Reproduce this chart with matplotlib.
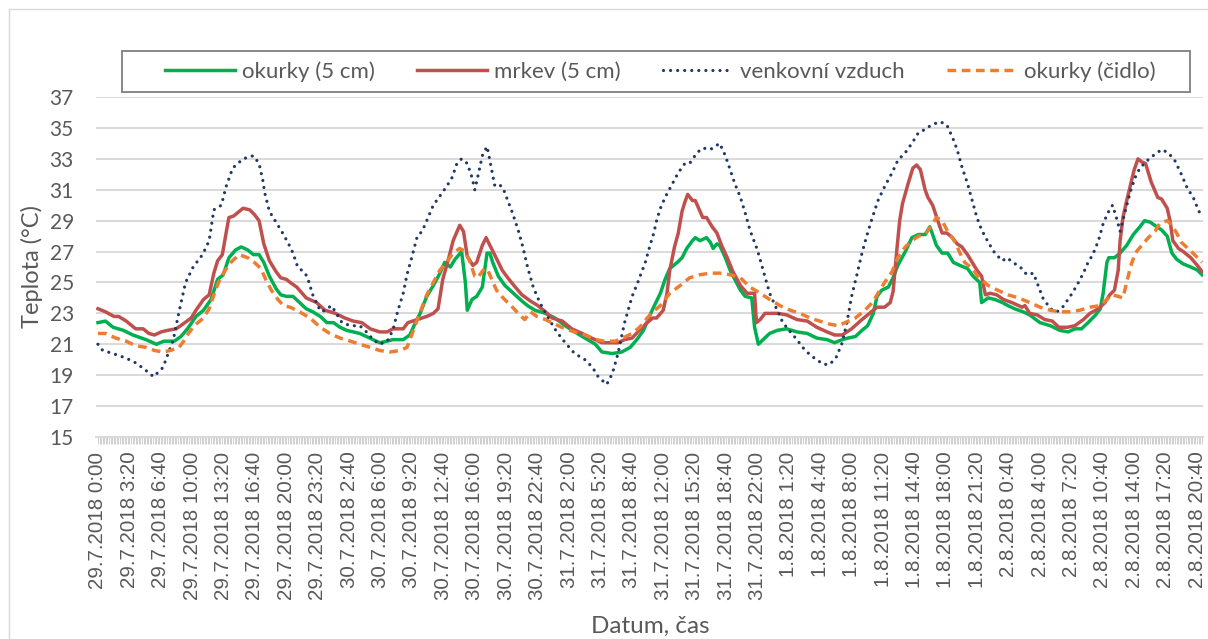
import matplotlib
matplotlib.use("Agg")
import matplotlib.pyplot as plt
import numpy as np
import pandas as pd
from matplotlib.lines import Line2D
from matplotlib.patches import Rectangle

plt.rcParams["font.family"] = ["Lato", "DejaVu Sans"]

# time in hours since 29.7.2018 0:00, temperature in degC
AIR_T = [0, 0.5, 1.6, 3.0, 4.0, 4.9, 5.9, 6.9, 8.0, 8.6, 9.3, 10.1, 11.1, 11.8,
         12.3, 13.1, 13.6, 14.3, 15.4, 16.5, 17.1, 17.5, 17.7, 18.2, 19.1, 19.7,
         20.4, 20.7, 21.2, 22.0, 22.3, 22.8, 23.4, 23.8, 24.3, 24.8, 25.2, 25.9,
         26.8, 27.8, 28.5, 29.2, 29.9, 30.7, 31.3, 31.8, 32.4, 32.8, 33.3, 33.9,
         34.4, 34.9, 35.6, 36.3, 37.0, 37.6, 38.1, 38.6, 39.2, 39.7, 40.0, 40.3,
         40.8, 41.3, 41.6, 42.1, 42.5, 43.0, 43.5, 44.0, 44.6, 45.1, 45.6, 46.2,
         46.9, 47.8, 48.7, 49.6, 50.6, 51.7, 52.5, 53.1, 54.0, 54.6, 55.2, 55.9,
         56.7, 57.3, 58.1, 58.6, 59.0, 59.3, 59.7, 60.2, 60.9, 61.6, 62.3, 62.8,
         63.6, 64.2, 65.0, 65.5, 66.0, 66.6, 67.1, 67.6, 68.2, 68.7, 69.2, 70.0,
         70.6, 71.3, 72.1, 72.7, 73.5, 74.2, 74.8, 75.6, 76.3, 77.0, 77.7, 78.4,
         79.0, 79.5, 80.0, 80.6, 81.1, 81.6, 82.2, 82.8, 83.5, 84.3, 84.9, 85.7,
         86.4, 87.1, 87.8, 88.5, 89.4, 90.1, 90.7, 91.2, 91.7, 92.3, 92.8, 93.3,
         93.8, 94.5, 95.2, 96.0, 96.5, 97.1, 97.9, 98.6, 99.3, 99.8, 100.3, 101.1,
         101.8, 102.4, 103.2, 103.9, 104.6, 105.1, 105.6, 106.2, 106.7, 107.2,
         107.7, 108.2, 108.5, 109.0, 109.6, 110.1, 110.6, 111.4, 112.0, 112.9,
         113.6, 114.3, 115.0, 115.7, 116.2, 116.8, 117.2]
AIR_V = [21.0, 20.6, 20.4, 20.1, 19.8, 19.4, 18.9, 19.5, 21.3, 23.1, 25.0, 26.0,
         26.8, 27.7, 29.7, 30.0, 31.2, 32.4, 33.0, 33.2, 32.7, 31.6, 30.8, 29.6,
         28.7, 28.1, 27.3, 26.9, 26.0, 25.6, 25.2, 24.2, 23.4, 23.1, 23.3, 23.5,
         23.1, 22.4, 22.2, 22.2, 21.8, 21.3, 21.0, 21.2, 21.9, 23.1, 24.3, 25.5,
         26.6, 28.0, 28.3, 29.0, 30.0, 30.6, 31.2, 31.8, 32.7, 33.0, 32.7, 31.8,
         31.0, 31.8, 33.2, 33.8, 32.9, 31.3, 31.4, 31.1, 30.3, 29.5, 28.4, 27.3,
         26.0, 24.7, 23.7, 22.7, 21.8, 21.1, 20.4, 20.0, 19.5, 18.9, 18.4, 19.1,
         20.4, 22.4, 24.1, 25.0, 26.3, 27.4, 28.2, 29.0, 29.8, 30.5, 31.3, 32.1,
         32.7, 32.7, 33.4, 33.7, 33.6, 33.8, 34.0, 33.2, 32.3, 31.4, 30.5, 29.5,
         28.4, 27.1, 25.8, 24.3, 23.2, 22.4, 21.8, 21.3, 20.8, 20.3, 20.0, 19.7,
         19.7, 20.2, 21.1, 22.4, 24.1, 25.6, 26.9, 28.0, 29.2, 30.3, 31.2, 32.1,
         32.9, 33.4, 34.0, 34.7, 34.9, 35.2, 35.4, 35.2, 34.4, 33.6, 32.5, 31.4,
         30.3, 29.2, 28.4, 27.6, 26.9, 26.4, 26.6, 26.3, 26.0, 25.5, 25.6, 24.8,
         24.0, 23.3, 23.1, 23.4, 24.1, 24.8, 25.6, 26.3, 26.8, 27.7, 28.8, 29.5,
         30.0, 29.0, 28.3, 29.5, 30.9, 31.8, 32.4, 32.9, 33.2, 33.6, 33.4, 32.9,
         32.0, 31.0, 30.6, 29.7, 29.2]

CUC_T = [0, 0.8, 1.6, 2.7, 3.7, 5.1, 6.2, 7.0, 8.1, 8.8, 9.5, 10.4, 11.2, 12.0,
         12.7, 13.3, 13.9, 14.6, 15.2, 15.9, 16.5, 17.1, 17.6, 18.2, 18.9, 19.4,
         20.0, 20.7, 21.4, 22.1, 22.8, 23.6, 24.3, 25.0, 25.7, 26.4, 27.1, 27.8,
         28.5, 29.2, 29.9, 30.7, 31.3, 32.4, 33.1, 33.7, 34.2, 34.9, 35.6, 36.3,
         36.8, 37.4, 37.9, 38.6, 39.0, 39.2, 39.7, 40.2, 40.8, 41.3, 41.6, 41.9,
         42.5, 43.2, 44.1, 45.0, 45.6, 46.4, 47.5, 48.5, 49.6, 50.6, 51.7, 52.8,
         53.5, 54.6, 55.6, 56.5, 57.2, 57.9, 58.4, 58.9, 59.7, 60.2, 60.7, 61.5,
         62.0, 62.5, 63.1, 63.4, 63.9, 64.6, 65.0, 65.3, 65.7, 66.0, 66.6, 67.1,
         67.6, 68.2, 68.7, 69.4, 69.7, 70.1, 70.6, 71.3, 72.1, 73.1, 74.2, 75.3,
         76.3, 77.4, 78.2, 79.0, 79.6, 80.4, 81.1, 81.7, 82.3, 82.7, 83.2, 83.9,
         84.4, 84.9, 85.7, 86.4, 87.1, 87.8, 88.3, 88.6, 89.0, 89.6, 90.2, 90.8,
         91.5, 92.3, 92.9, 93.6, 93.8, 94.5, 95.2, 96.0, 96.6, 97.3, 98.2, 98.9,
         100.0, 101.1, 102.1, 103.0, 103.7, 104.4, 105.1, 105.9, 106.4, 106.7,
         107.1, 107.3, 107.9, 108.5, 109.2, 109.9, 110.6, 111.1, 111.7, 112.4,
         112.9, 113.5, 114.0, 114.5, 115.2, 116.0, 116.7, 117.2]
CUC_V = [22.4, 22.5, 22.1, 21.9, 21.6, 21.3, 21.0, 21.2, 21.2, 21.5, 22.0, 22.8,
         23.2, 23.9, 25.2, 25.5, 26.6, 27.1, 27.3, 27.1, 26.8, 26.8, 26.3, 25.4,
         24.6, 24.2, 24.1, 24.1, 23.7, 23.3, 23.1, 22.8, 22.4, 22.4, 22.1, 21.9,
         21.8, 21.7, 21.5, 21.3, 21.1, 21.2, 21.3, 21.3, 21.6, 22.4, 23.0, 24.1,
         24.8, 25.6, 26.3, 26.0, 26.5, 27.0, 25.0, 23.2, 23.9, 24.1, 24.7, 26.9,
         26.9, 26.3, 25.4, 24.8, 24.3, 23.8, 23.5, 23.2, 23.0, 22.7, 22.2, 21.8,
         21.4, 21.0, 20.5, 20.4, 20.5, 20.8, 21.3, 21.9, 22.6, 23.3, 24.3, 25.2,
         25.9, 26.3, 26.6, 27.2, 27.7, 27.9, 27.7, 27.9, 27.6, 27.2, 27.5, 27.4,
         26.6, 25.8, 25.2, 24.5, 24.1, 24.0, 22.1, 21.0, 21.3, 21.7, 21.9, 22.0,
         21.8, 21.7, 21.4, 21.3, 21.1, 21.3, 21.4, 21.5, 21.9, 22.2, 23.0, 24.1,
         24.5, 24.7, 25.3, 26.1, 27.0, 27.9, 28.1, 28.1, 28.6, 28.1, 27.4, 26.9,
         26.9, 26.3, 26.1, 25.9, 25.4, 25.0, 23.7, 24.0, 23.9, 23.7, 23.5, 23.3,
         23.1, 22.9, 22.4, 22.2, 21.9, 21.8, 22.0, 22.0, 22.4, 22.9, 23.3, 24.3,
         26.3, 26.6, 26.6, 26.9, 27.4, 28.1, 28.6, 29.0, 28.9, 28.6, 28.4, 28.0,
         26.9, 26.5, 26.2, 26.0, 25.8, 25.5]

CAR_T = [0, 0.8, 1.7, 2.2, 3.0, 4.0, 4.8, 5.4, 6.0, 6.7, 7.4, 8.3, 9.0, 9.9,
         10.4, 11.2, 11.8, 12.3, 12.7, 13.2, 13.6, 13.9, 14.4, 15.4, 16.1, 16.6,
         17.1, 17.6, 18.2, 18.9, 19.4, 20.0, 20.4, 21.1, 22.1, 23.2, 24.1, 25.2,
         26.2, 27.1, 28.0, 28.9, 29.9, 30.7, 31.3, 32.4, 32.9, 33.9, 34.9, 35.6,
         36.1, 36.6, 37.2, 37.7, 38.4, 38.8, 39.2, 39.8, 40.2, 40.8, 41.2, 41.6,
         42.1, 42.9, 43.5, 44.3, 45.0, 45.9, 46.7, 47.5, 48.2, 49.3, 50.3, 51.4,
         52.4, 53.5, 54.6, 55.2, 55.9, 56.7, 57.3, 58.3, 58.9, 59.3, 60.0, 60.4,
         60.7, 61.2, 61.6, 62.0, 62.3, 62.6, 63.1, 63.4, 64.2, 64.6, 65.2, 65.7,
         66.2, 66.8, 67.4, 68.2, 68.9, 69.7, 69.9, 70.3, 70.8, 71.7, 72.2, 73.1,
         74.2, 75.3, 76.3, 77.4, 78.2, 79.0, 80.0, 81.1, 81.9, 82.7, 83.5, 84.1,
         84.4, 84.8, 85.1, 85.4, 86.0, 86.5, 86.9, 87.3, 87.8, 88.1, 88.6, 89.2,
         89.6, 90.1, 90.7, 91.2, 91.7, 92.3, 92.8, 93.3, 93.8, 94.2, 94.7, 95.4,
         96.1, 97.0, 98.1, 98.4, 98.9, 99.7, 100.5, 101.3, 102.0, 102.9, 103.7,
         104.6, 105.3, 106.2, 106.9, 107.4, 107.9, 108.3, 108.5, 108.8, 109.2,
         109.6, 110.0, 110.4, 110.8, 111.2, 111.8, 112.5, 112.9, 113.5, 113.8,
         114.1, 114.7, 115.2, 116.0, 116.7, 117.2]
CAR_V = [23.3, 23.1, 22.8, 22.8, 22.5, 22.0, 22.0, 21.7, 21.6, 21.8, 21.9, 22.0,
         22.3, 22.7, 23.2, 23.9, 24.2, 25.6, 26.4, 26.8, 28.2, 29.2, 29.3, 29.8,
         29.7, 29.4, 29.0, 27.5, 26.4, 25.7, 25.3, 25.2, 25.0, 24.7, 24.0, 23.7,
         23.2, 23.0, 22.7, 22.5, 22.4, 22.0, 21.8, 21.8, 22.0, 22.0, 22.4, 22.6,
         22.8, 23.0, 23.3, 25.2, 26.5, 27.7, 28.7, 28.3, 26.7, 26.1, 26.3, 27.4,
         27.9, 27.4, 26.8, 25.8, 25.3, 24.7, 24.2, 23.8, 23.5, 23.1, 22.7, 22.5,
         22.0, 21.7, 21.4, 21.1, 21.1, 21.1, 21.3, 21.4, 21.8, 22.4, 22.7, 22.7,
         23.2, 24.3, 25.8, 27.3, 28.2, 29.6, 30.2, 30.7, 30.3, 30.3, 29.2, 29.2,
         28.6, 28.2, 27.4, 26.6, 25.7, 24.8, 24.3, 24.3, 22.4, 22.6, 23.0, 23.0,
         23.0, 22.9, 22.6, 22.5, 22.1, 21.8, 21.6, 21.6, 22.0, 22.6, 23.0, 23.4,
         23.4, 23.7, 24.4, 27.1, 29.0, 30.1, 31.4, 32.4, 32.6, 32.3, 31.0, 30.5,
         30.0, 28.9, 28.2, 28.2, 27.9, 27.5, 27.3, 26.8, 26.3, 25.8, 25.4, 24.2,
         24.3, 24.2, 23.9, 23.7, 23.4, 23.5, 23.0, 22.9, 22.6, 22.5, 22.1, 22.1,
         22.2, 22.6, 23.0, 23.3, 23.7, 24.2, 24.5, 25.8, 27.7, 29.2, 30.3, 31.3,
         32.3, 33.0, 32.8, 32.7, 31.5, 30.5, 30.4, 29.8, 29.0, 27.7, 27.2, 27.0,
         26.6, 26.1, 25.7]

SENSOR_T = [0, 0.8, 1.9, 3.0, 4.0, 5.1, 6.0, 6.9, 7.7, 8.6, 9.1, 9.7, 10.4,
            11.2, 11.8, 12.3, 12.8, 13.4, 14.1, 15.0, 15.9, 16.6, 17.3, 17.8,
            18.4, 19.1, 19.7, 20.4, 21.4, 22.5, 23.6, 24.6, 25.7, 26.8, 27.8,
            28.9, 29.9, 31.0, 32.1, 32.8, 33.3, 33.9, 34.4, 34.9, 35.6, 36.3,
            37.0, 37.7, 38.4, 39.0, 39.5, 40.0, 40.3, 40.9, 41.3, 41.8, 42.3,
            43.0, 44.0, 44.6, 45.3, 45.9, 46.6, 47.5, 48.5, 49.6, 50.6, 51.7,
            52.8, 53.8, 54.9, 55.7, 56.7, 57.5, 58.3, 58.9, 59.7, 60.7, 61.8,
            62.8, 63.9, 65.0, 66.0, 67.1, 68.2, 69.2, 70.3, 71.3, 72.4, 73.5,
            74.5, 75.6, 76.6, 77.7, 78.6, 79.3, 80.4, 81.4, 82.2, 82.8, 83.5,
            84.3, 84.9, 85.7, 86.4, 87.1, 87.8, 88.5, 89.0, 89.6, 90.2, 91.0,
            91.5, 92.0, 92.8, 93.4, 94.5, 95.5, 96.6, 97.7, 98.9, 100.0, 101.1,
            102.1, 103.2, 104.2, 105.3, 106.4, 107.1, 107.6, 108.3, 108.8,
            109.2, 109.6, 110.1, 110.8, 111.5, 112.2, 112.7, 113.5, 114.0,
            114.5, 115.0, 115.7, 116.4, 117.2]
SENSOR_V = [21.7, 21.7, 21.4, 21.2, 20.9, 20.8, 20.6, 20.5, 20.6, 20.8, 21.2,
            21.8, 22.3, 22.7, 23.3, 24.2, 25.0, 25.7, 26.3, 26.8, 26.6, 26.3,
            25.9, 25.2, 24.5, 23.9, 23.5, 23.4, 23.1, 22.7, 22.1, 21.7, 21.4,
            21.2, 21.0, 20.8, 20.6, 20.5, 20.6, 20.8, 21.6, 22.6, 23.4, 24.2,
            25.0, 25.8, 26.3, 26.9, 27.2, 27.0, 26.3, 25.4, 25.3, 25.8, 25.9,
            25.2, 24.5, 24.0, 23.4, 23.0, 22.6, 23.1, 22.8, 22.6, 22.3, 22.0,
            21.8, 21.6, 21.3, 21.2, 21.2, 21.4, 21.7, 22.1, 22.7, 23.1, 23.5,
            24.3, 24.8, 25.3, 25.5, 25.6, 25.6, 25.5, 25.3, 24.7, 24.3, 23.9,
            23.5, 23.2, 23.0, 22.7, 22.5, 22.3, 22.2, 22.4, 22.7, 23.2, 23.7,
            24.3, 25.0, 25.7, 26.6, 27.3, 27.7, 28.0, 28.1, 28.7, 29.2, 29.0,
            28.3, 27.6, 26.9, 26.3, 25.9, 25.4, 24.8, 24.5, 24.2, 24.0, 23.7,
            23.4, 23.2, 23.1, 23.1, 23.2, 23.4, 23.5, 23.9, 24.2, 24.1, 24.0,
            25.0, 26.0, 26.9, 27.4, 27.9, 28.3, 28.8, 29.0, 28.7, 28.2, 27.6,
            27.2, 26.8, 26.3]

SERIES = ["okurky (5 cm)", "mrkev (5 cm)", "venkovní vzduch", "okurky (čidlo)"]
Y_TICKS = list(range(15, 38, 2))
TICK_TIMES = pd.date_range("2018-07-29 00:00", periods=36, freq="200min")
TICK_LABELS = [f"{d.day}.{d.month}.{d.year} {d.hour}:{d.minute:02d}"
               for d in TICK_TIMES]

W, H = 1208, 639
GRAY = "#595959"
GRID = "#d9d9d9"

fig = plt.figure(figsize=(W / 100, H / 100), dpi=100)
ax = fig.add_axes([96 / W, 1 - 437 / H, (1203 - 96) / W, (437 - 97) / H])

ax.plot(CUC_T, CUC_V, color="#00b050", lw=2.5, label=SERIES[0],
        solid_joinstyle="round")
ax.plot(CAR_T, CAR_V, color="#c0504d", lw=2.5, label=SERIES[1],
        solid_joinstyle="round")
ax.plot(AIR_T, AIR_V, color="#1f3864", lw=2.3, label=SERIES[2],
        linestyle=(0, (0.01, 2.2)), dash_capstyle="round")
ax.plot(SENSOR_T, SENSOR_V, color="#ed7d31", lw=2.5, label=SERIES[3],
        linestyle=(0, (2.5, 1.6)), dash_capstyle="butt")

ax.set_ylim(15, 37)
ax.set_yticks(Y_TICKS)
ax.set_xlim(-0.21, 117.3)
tick_pos = [(d - TICK_TIMES[0]).total_seconds() / 3600 for d in TICK_TIMES]
ax.set_xticks(tick_pos)
ax.set_xticklabels(TICK_LABELS, rotation=90, family="Liberation Sans")
ax.set_xticks(np.arange(0, 117.3, 1 / 6), minor=True)

ax.grid(axis="y", color=GRID, lw=1.4)
ax.set_axisbelow(True)
for side in ["top", "right", "left"]:
    ax.spines[side].set_visible(False)
ax.spines["bottom"].set_color(GRID)
ax.spines["bottom"].set_linewidth(1.4)

ax.tick_params(axis="y", length=0, pad=16, labelsize=15, labelcolor=GRAY)
ax.tick_params(axis="x", which="both", length=5, width=0.6, color="#c8c8c8")
ax.tick_params(axis="x", which="major", pad=5.5, labelsize=14.8,
               labelcolor=GRAY)

fig.text(32 / W, 1 - 267 / H, "Teplota (°C)", rotation=90, ha="center",
         va="center", fontsize=17, color=GRAY)
fig.text(650 / W, 1 - 626 / H, "Datum, čas", ha="center", va="center",
         fontsize=17.5, color=GRAY)

# legend box
fig.add_artist(Rectangle((122 / W, 1 - 92 / H), (1190 - 122) / W, 41 / H,
                         transform=fig.transFigure, fill=False,
                         edgecolor="#7f7f7f", lw=1.3))
leg = fig.legend(loc="center", bbox_to_anchor=(660 / W, 1 - 71.5 / H),
                 ncol=4, frameon=False, fontsize=16, handlelength=3.15,
                 handletextpad=0.32, columnspacing=1.9)
for t in leg.get_texts():
    t.set_color(GRAY)

# chart area border
fig.add_artist(Line2D([9 / W, 9 / W], [0, 1 - 9 / H], transform=fig.transFigure,
                      color=GRID, lw=1))
fig.add_artist(Line2D([9 / W, 1], [1 - 9 / H, 1 - 9 / H],
                      transform=fig.transFigure, color=GRID, lw=1))

fig.savefig("out.png", dpi=100)
